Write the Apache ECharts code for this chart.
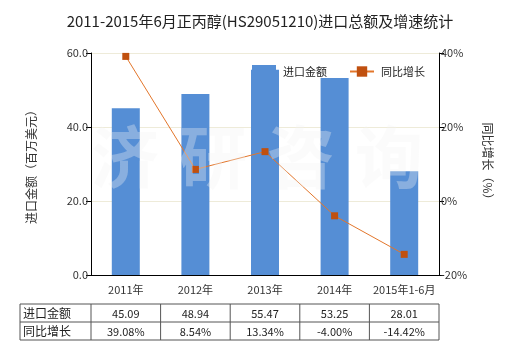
<!DOCTYPE html>
<html><head><meta charset="utf-8">
<script src="https://cdn.jsdelivr.net/npm/echarts@6/dist/echarts.min.js"></script>
<style>html,body{margin:0;padding:0;background:#fff}#c{width:520px;height:350px}</style>
</head><body><div id="c"></div>
<script>
var categories = ['2011年','2012年','2013年','2014年','2015年1-6月'];
var importValues = [45.09, 48.94, 55.47, 53.25, 28.01];
var growthValues = [39.08, 8.54, 13.34, -4.00, -14.42];
var importLabels = ['45.09','48.94','55.47','53.25','28.01'];
var growthLabels = ['39.08%','8.54%','13.34%','-4.00%','-14.42%'];
var rowNames = ['进口金额','同比增长'];
var watermarkChars = ['济','研','咨','询'];

var FONT = '"Noto Sans CJK SC", "Microsoft YaHei", sans-serif';
var chart = echarts.init(document.getElementById('c'));
chart.setOption({
  animation: false,
  backgroundColor: '#fff',
  title: { text: '2011-2015年6月正丙醇(HS29051210)进口总额及增速统计', left: 'center', top: 9,
    textStyle: { fontFamily: FONT, fontSize: 15, fontWeight: 'normal', color: '#222' } },
  legend: { left: 252, top: 65, itemGap: 20, itemWidth: 24, itemHeight: 13, padding: 0,
    textStyle: { fontFamily: FONT, fontSize: 11, color: '#222', backgroundColor: '#fff', padding: [1,2] },
    data: [{ name: '进口金额', icon: 'rect' }, { name: '同比增长' }] },
  grid: { left: 91, right: 81, top: 53, bottom: 75 },
  xAxis: { type: 'category', data: categories,
    axisLine: { lineStyle: { color: '#000' } },
    axisTick: { alignWithLabel: true, length: 5, lineStyle: { color: '#000' } },
    axisLabel: { interval: 0, fontFamily: FONT, fontSize: 11, color: '#333', margin: 9 } },
  yAxis: [
    { type: 'value', min: 0, max: 60, interval: 20, name: '进口金额（百万美元）', nameLocation: 'middle', nameGap: 54, nameRotate: 90,
      nameTextStyle: { fontFamily: FONT, fontSize: 12, color: '#333' },
      axisLine: { show: true, lineStyle: { color: '#000' } },
      axisTick: { show: true, length: 5, lineStyle: { color: '#000' } },
      axisLabel: { fontFamily: FONT, fontSize: 11, color: '#333', margin: 3, formatter: function(v){ return v.toFixed(1); } },
      splitLine: { lineStyle: { color: '#eeebd9' } } },
    { type: 'value', min: -20, max: 40, interval: 20, name: '同比增长（%）', nameLocation: 'middle', nameGap: 43, nameRotate: -90,
      nameTextStyle: { fontFamily: FONT, fontSize: 12, color: '#333' },
      axisLine: { show: true, lineStyle: { color: '#000' } },
      axisTick: { show: true, length: 5, lineStyle: { color: '#000' } },
      axisLabel: { fontFamily: FONT, fontSize: 11, color: '#333', margin: 2, formatter: '{value}%' },
      splitLine: { show: false } }
  ],
  series: [
    { name: '进口金额', type: 'bar', data: importValues, barWidth: 28, itemStyle: { color: '#558ed5' }, z: 2 },
    { name: '同比增长', type: 'line', yAxisIndex: 1, data: growthValues, symbol: 'rect', symbolSize: 7,
      lineStyle: { color: '#e3762b', width: 1 }, itemStyle: { color: '#c0500f' }, z: 5 }
  ]
});

function buildGraphics() {
  var els = [];
  var x0 = 20, y0 = 304, rh = 18;
  var xs = categories.map(function(c, i){ return chart.convertToPixel({xAxisIndex: 0}, i); });
  var colW = xs[1] - xs[0];
  var xEnd = xs[xs.length-1] + colW/2;
  var firstX = xs[0] - colW/2;
  var lc = '#555';
  for (var r = 0; r <= rowNames.length; r++) {
    els.push({ type: 'line', shape: { x1: x0, y1: y0 + r*rh, x2: xEnd, y2: y0 + r*rh }, style: { stroke: lc, lineWidth: 1 } });
  }
  var vx = [x0, firstX].concat(xs.map(function(x){ return x + colW/2; }));
  vx.forEach(function(x){ els.push({ type: 'line', shape: { x1: x, y1: y0, x2: x, y2: y0 + rowNames.length*rh }, style: { stroke: lc, lineWidth: 1 } }); });
  var rows = [importLabels, growthLabels];
  rowNames.forEach(function(n, r){
    els.push({ type: 'text', style: { text: n, x: x0 + 3, y: y0 + r*rh + rh/2, textVerticalAlign: 'middle', font: '12px ' + FONT, fill: '#222' } });
    rows[r].forEach(function(t, i){
      els.push({ type: 'text', style: { text: t, x: xs[i], y: y0 + r*rh + rh/2 + 1, textAlign: 'center', textVerticalAlign: 'middle', font: '11px ' + FONT, fill: '#222' } });
    });
  });
  watermarkChars.forEach(function(ch, i){
    els.push({ type: 'text', z: 10, silent: true, style: { text: ch, x: 125 + i*88, y: 157, textAlign: 'center', textVerticalAlign: 'middle', font: 'bold 68px ' + FONT, fill: 'rgba(242,242,242,0.33)' } });
  });
  chart.setOption({ graphic: els });
}
buildGraphics();
</script></body></html>
